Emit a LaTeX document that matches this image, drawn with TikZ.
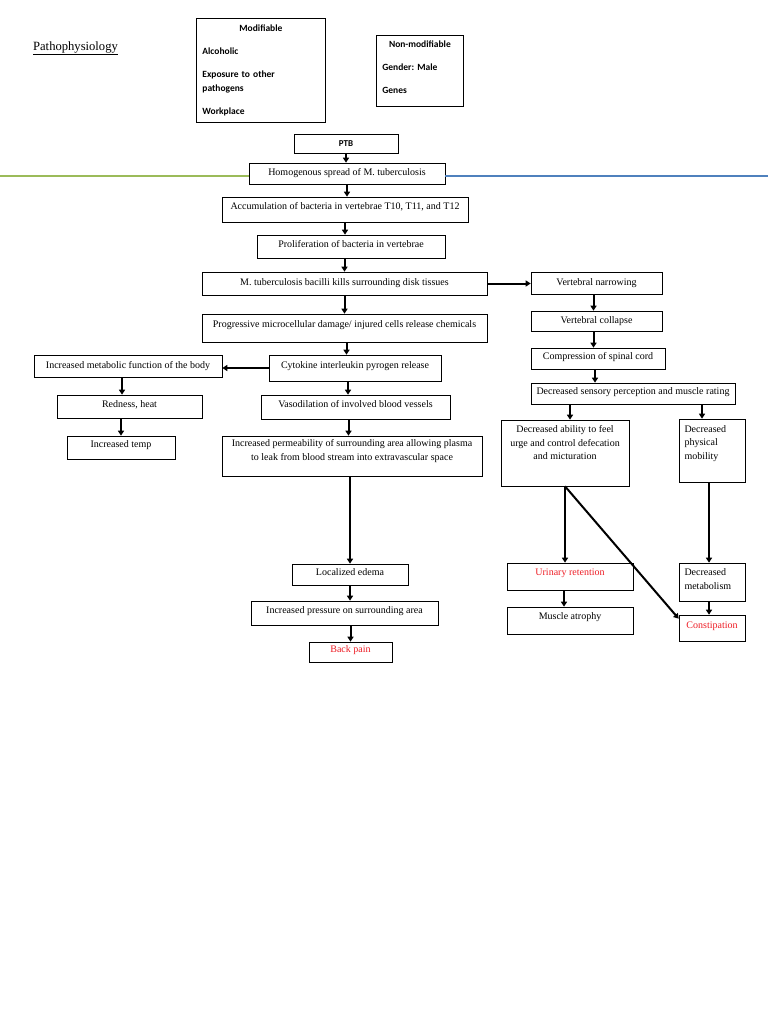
\documentclass[tikz,border=0pt]{standalone}
\usepackage{fontspec}
\setmainfont{Liberation Serif}
\newfontfamily\riskfont{Carlito}
\frenchspacing
\usetikzlibrary{arrows.meta, calc}
\definecolor{linegreen}{RGB}{155, 187, 89}
\definecolor{lineblue}{RGB}{79, 129, 189}
\definecolor{sxred}{RGB}{237, 28, 36}
\tikzset{
    box/.style={draw, line width=0.6pt, inner sep=2pt, align=center,
        font=\fontsize{10}{13.5}\selectfont},
    sxtext/.style={text=sxred},
    riskbox/.style={draw, line width=0.8pt, anchor=north west, align=left,
        inner xsep=6pt, font=\riskfont\bfseries\fontsize{9.5}{14}\selectfont},
    arr/.style={-{Triangle[length=5pt, width=6pt]}, line width=2pt},
}

\begin{document}
\begin{tikzpicture}[x=1pt, y=-1pt]
    \useasboundingbox (0,0) rectangle (768,1024);
    \node[font=\fontsize{12.6}{14}\selectfont] (title) at (75.5,48)
        {\underline{Pathophysiology}};
    % risk factors
    \node[riskbox, text width=117pt, minimum height=104pt] (modif) at (196,18)
        {\makebox[117pt]{Modifiable}\\[9pt] Alcoholic\\[9pt]
        Exposure to other\\ pathogens\\[9pt] Workplace};
    \node[riskbox, text width=75pt, minimum height=71pt, text depth=54pt] (nonmod)
        at (376,35) {\makebox[75pt]{Non-modifiable}\\[9pt] Gender: Male\\[9pt] Genes};
    % main column
    \node[box, minimum width=104pt, minimum height=19pt,
        font=\riskfont\bfseries\fontsize{9}{10}\selectfont] (ptb) at (346,143.5) {PTB};
    \coordinate (lineL) at (0,176);
    \coordinate (lineR) at (768,176);
    \node[box, minimum width=196pt, minimum height=21pt] (homog) at (347,173.5)
        {Homogenous spread of M. tuberculosis};
    \draw[linegreen, line width=2pt] (lineL) -- (lineL -| homog.west);
    \draw[lineblue, line width=2pt] (lineR -| homog.east) -- (lineR);
    \node[box, minimum width=246pt, minimum height=25pt, text depth=7pt] (accum)
        at (345,209.5) {Accumulation of bacteria in vertebrae T10, T11, and T12};
    \node[box, minimum width=188pt, minimum height=23pt, text depth=5pt] (prolif)
        at (351,246.5) {Proliferation of bacteria in vertebrae};
    \node[box, minimum width=285pt, minimum height=23pt] (kills) at (344.5,283.5)
        {M. tuberculosis bacilli kills surrounding disk tissues};
    \node[box, minimum width=285pt, minimum height=28pt, text depth=8pt] (damage)
        at (344.5,328) {Progressive microcellular damage/ injured cells release chemicals};
    \node[box, minimum width=172pt, minimum height=26pt, text depth=6pt] (cyto)
        at (355,368) {Cytokine interleukin pyrogen release};
    \node[box, minimum width=188pt, minimum height=22pt] (metfunc) at (128,366)
        {Increased metabolic function of the body};
    \node[box, minimum width=145pt, minimum height=23pt, text depth=5pt] (redheat)
        at (129.5,406.5) {Redness, heat};
    \node[box, minimum width=108pt, minimum height=23pt, text depth=6pt] (temp)
        at (121,447.5) {Increased temp};
    \node[box, minimum width=189pt, minimum height=24pt, text depth=6pt] (vaso)
        at (355.5,407) {Vasodilation of involved blood vessels};
    \node[box, minimum width=260pt, minimum height=40pt, text depth=12pt] (perm)
        at (352,456) {Increased permeability of surrounding area allowing plasma\\
        to leak from blood stream into extravascular space};
    \node[box, minimum width=116pt, minimum height=21pt, text depth=5pt] (edema)
        at (350,574.5) {Localized edema};
    \node[box, minimum width=187pt, minimum height=24pt, text depth=6pt] (press)
        at (344.5,613) {Increased pressure on surrounding area};
    \node[box, sxtext, minimum width=83pt, minimum height=20pt, text depth=5pt]
        (backpain) at (350.5,652) {Back pain};
    % spinal column
    \node[box, minimum width=131pt, minimum height=22pt] (narrow) at (596.5,283)
        {Vertebral narrowing};
    \node[box, minimum width=131pt, minimum height=20pt] (collapse) at (596.5,321)
        {Vertebral collapse};
    \node[box, minimum width=134pt, minimum height=21pt, text depth=5pt] (cord)
        at (598,358.5) {Compression of spinal cord};
    \node[box, minimum width=204pt, minimum height=21pt, text depth=5pt] (sense)
        at (633,393.5) {Decreased sensory perception and muscle rating};
    \node[box, minimum width=128pt, minimum height=66pt, text depth=21pt] (urge)
        at (565,453) {Decreased ability to feel\\ urge and control defecation\\ and micturation};
    \node[box, align=left, text width=55pt, minimum width=66pt, minimum height=63pt,
        text depth=43pt] (mobil) at (712,450.5) {Decreased\\ physical\\ mobility};
    \node[box, sxtext, minimum width=126pt, minimum height=27pt, text depth=9pt]
        (urine) at (570,576.5) {Urinary retention};
    \node[box, minimum width=126pt, minimum height=27pt, text depth=8pt] (atrophy)
        at (570,620.5) {Muscle atrophy};
    \node[box, align=left, text width=55pt, minimum width=66pt, minimum height=38pt,
        text depth=19pt] (metab) at (712,582) {Decreased\\ metabolism};
    \node[box, sxtext, minimum width=66pt, minimum height=26pt, text depth=6pt]
        (constip) at (712,628) {Constipation};
    % arrows
    \draw[arr] (ptb.south) -- (ptb.south |- homog.north);
    \draw[arr] (homog.south) -- (homog.south |- accum.north);
    \draw[arr] (accum.south) -- (accum.south |- prolif.north);
    \draw[arr] (prolif.south -| kills) -- (kills.north);
    \draw[arr] (kills.south) -- (damage.north);
    \draw[arr] ([xshift=2pt]damage.south) -- ([xshift=2pt]damage.south |- cyto.north);
    \draw[arr] (cyto.west) -- (cyto.west -| metfunc.east);
    \draw[arr] ([xshift=-6pt]metfunc.south) -- ([xshift=-6pt]metfunc.south |- redheat.north);
    \draw[arr] (redheat.south -| temp) -- (temp.north);
    \draw[arr] ([xshift=-7pt]cyto.south) -- ([xshift=-7pt]cyto.south |- vaso.north);
    \draw[arr] ([xshift=-7pt]vaso.south) -- ([xshift=-7pt]vaso.south |- perm.north);
    \draw[arr] (perm.south -| edema) -- (edema.north);
    \draw[arr] (edema.south) -- (edema.south |- press.north);
    \draw[arr] (press.south -| backpain) -- (backpain.north);
    \draw[arr] (kills.east) -- (kills.east -| narrow.west);
    \draw[arr] ([xshift=-3pt]narrow.south) -- ([xshift=-3pt]collapse.north);
    \draw[arr] ([xshift=-3pt]collapse.south) -- ([xshift=-3pt]collapse.south |- cord.north);
    \draw[arr] ([xshift=-3pt]cord.south) -- ([xshift=-3pt]cord.south |- sense.north);
    \draw[arr] ([xshift=5pt]urge.north |- sense.south) -- ([xshift=5pt]urge.north);
    \draw[arr] ([xshift=-10pt]mobil.north |- sense.south) -- ([xshift=-10pt]mobil.north);
    \draw[arr] (urge.south) -- (urge.south |- urine.north);
    \draw[arr] (urge.south) -- ([yshift=-4pt]constip.north west);
    \draw[arr] ([xshift=-3pt]mobil.south) -- ([xshift=-3pt]metab.north);
    \draw[arr] ([xshift=-3pt]metab.south) -- ([xshift=-3pt]constip.north);
    \draw[arr] ([xshift=-6pt]urine.south) -- ([xshift=-6pt]urine.south |- atrophy.north);
\end{tikzpicture}
\end{document}
